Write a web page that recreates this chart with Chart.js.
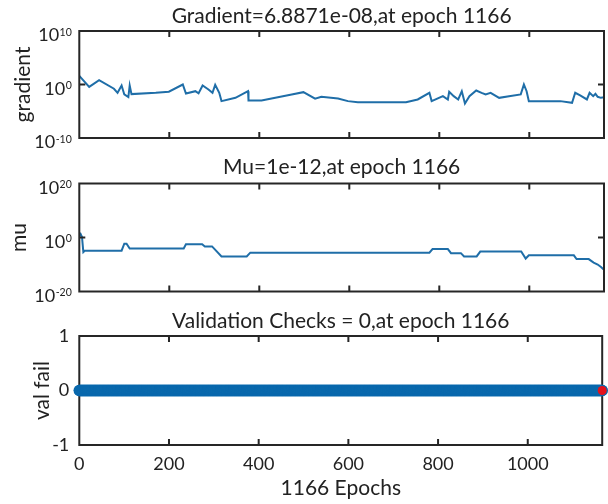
<!DOCTYPE html>
<html lang="en">

<head>
    <meta charset="UTF-8">
    <title>Training State</title>
    <script src="https://cdn.jsdelivr.net/npm/chart.js"></script>
    <style>
        body {
            margin: 0;
            background: #fff;
        }

        .panel {
            position: relative;
            width: 608px;
            height: 504px;
        }

        canvas {
            position: absolute;
            left: 0;
        }
    </style>
</head>

<body>
    <div class="panel">
        <canvas id="gradChart" width="608" height="160" style="top:0"></canvas>
        <canvas id="muChart" width="608" height="165" style="top:150px"></canvas>
        <canvas id="valChart" width="608" height="204" style="top:300px"></canvas>
    </div>

    <script>
        const lastEpoch = 1166;
        const epochTicks = [0, 200, 400, 600, 800, 1000];

        // gradient per epoch (log axis); the last entry is the final gradient at epoch 1166
        const gradEpochs = [0, 22, 44, 77, 85, 94, 100, 109, 112, 116, 170, 199, 230, 237, 258, 265, 274, 287, 296, 302,
            311, 316, 347, 375, 376, 405, 472, 498, 524, 538, 575, 597, 619, 726, 752, 778, 783, 808, 819, 822,
            832, 842, 850, 857, 867, 882, 894, 903, 914, 933, 955, 981, 988, 994, 999, 1069, 1095, 1102, 1113, 1128,
            1134, 1142, 1147, 1152, 1159, 1166, 1166];
        const gradValues = [4.0e1, 3.5e-1, 6.5, 1.6e-1, 2.8e-2, 6.6e-1, 1.4e-2, 4.5e-3, 6.6e-1, 1.6e-2,
            2.8e-2, 4.5e-2, 1.0, 2.1e-2, 5.6e-2, 2.2e-2, 6.6e-1, 1.2e-1, 2.8e-2, 8.9e-1,
            2.8e-2, 7.8e-4, 3.2e-3, 5.6e-2, 1.0e-3, 1.0e-3, 1.4e-2, 3.7e-2, 2.2e-3, 5.0e-3,
            2.5e-3, 7.8e-4, 5.0e-4, 5.0e-4, 1.6e-3, 2.8e-2, 7.8e-4, 6.6e-3, 1.6e-3, 4.3e-2,
            6.6e-3, 1.6e-3, 5.6e-2, 2.8e-4, 6.6e-3, 7.6e-2, 2.8e-2, 1.4e-2, 2.8e-2, 3.2e-3,
            6.6e-3, 1.4e-2, 1.0, 5.6e-2, 7.8e-4, 7.8e-4, 3.8e-4, 2.8e-2, 8.9e-3, 1.6e-3,
            2.8e-2, 6.6e-3, 1.8e-2, 5.0e-3, 3.2e-3, 4.0e-3, 6.8871e-8];
        const gradTicks = [1e-10, 1, 1e10];

        // mu per epoch (log axis)
        const muEpochs = [0, 3, 6, 9, 12, 94, 100, 105, 112, 232, 237, 273, 279, 295, 316, 372, 380, 778, 785, 819,
            826, 848, 855, 883, 891, 982, 992, 999, 1099, 1105, 1132, 1143, 1152, 1160, 1166];
        const muValues = [3.2, 2.0e1, 1.6, 4.0e-6, 1.3e-5, 1.3e-5, 5.0e-3, 5.0e-3, 7.9e-5, 7.9e-5,
            3.2e-3, 3.2e-3, 5.0e-4, 5.0e-4, 1.0e-7, 1.0e-7, 2.5e-6, 2.5e-6, 5.0e-5, 5.0e-5,
            1.6e-6, 1.6e-6, 1.0e-7, 1.0e-7, 6.3e-6, 6.3e-6, 1.6e-8, 2.5e-7, 2.5e-7, 1.0e-8,
            1.0e-8, 5.0e-10, 1.0e-10, 1.0e-11, 1e-12];
        const muTicks = [1e-20, 1, 1e20];

        // validation failures: zero at every epoch
        const valEpochs = Array.from({ length: lastEpoch + 1 }, (_, i) => i);
        const valFail = valEpochs.map(() => 0);
        const valTicks = [-1, 0, 1];
        const currentEpoch = [1166];
        const currentFail = [0];

        const family = 'Lato, "Open Sans", sans-serif';
        const ink = '#222222';
        const lineBlue = '#1f6ea8';
        const axisLeft = 79.3;

        function toPoints(xs, ys) {
            return xs.map((x, i) => ({ x: x, y: ys[i] }));
        }

        // box around the plot area with MATLAB-style inward ticks
        function drawFrame(chart) {
            const { ctx, chartArea: a, scales: { x, y } } = chart;
            ctx.save();
            ctx.strokeStyle = '#262626';
            ctx.lineWidth = 2;
            ctx.beginPath();
            x.ticks.forEach(t => {
                const px = x.getPixelForValue(t.value);
                if (px < a.left + 2 || px > a.right - 2) return;
                ctx.moveTo(px, a.bottom);
                ctx.lineTo(px, a.bottom - 6);
                ctx.moveTo(px, a.top);
                ctx.lineTo(px, a.top + 6);
            });
            y.ticks.forEach(t => {
                const py = y.getPixelForValue(t.value);
                if (py < a.top + 2 || py > a.bottom - 2) return;
                ctx.moveTo(a.left, py);
                ctx.lineTo(a.left + 6, py);
                ctx.moveTo(a.right, py);
                ctx.lineTo(a.right - 6, py);
            });
            ctx.stroke();
            ctx.strokeRect(a.left, a.top, a.right - a.left, a.bottom - a.top);
            ctx.restore();
        }

        // "10" with a raised exponent for the log axes
        function drawPowers(chart) {
            const { ctx, chartArea: a, scales: { y } } = chart;
            const right = a.left - 7.5;
            ctx.save();
            ctx.fillStyle = ink;
            ctx.textAlign = 'right';
            ctx.textBaseline = 'alphabetic';
            y.ticks.forEach(t => {
                const mid = y.getPixelForValue(t.value) + 3.5;
                const exp = String(Math.round(Math.log10(t.value)));
                ctx.font = '10.5px ' + family;
                const ew = ctx.measureText(exp).width;
                ctx.fillText(exp, right, mid + 1);
                ctx.font = '18px ' + family;
                ctx.fillText('10', right - ew - 0.5, mid + 6.5);
            });
            ctx.restore();
        }

        const frame = {
            id: 'frame',
            defaults: { under: false, powers: false },
            beforeDatasetsDraw(chart, args, opts) {
                if (opts.under) drawFrame(chart);
            },
            afterDatasetsDraw(chart, args, opts) {
                if (!opts.under) drawFrame(chart);
                if (opts.powers) drawPowers(chart);
            }
        };

        function epochScale(showLabels, height) {
            return {
                type: 'linear',
                min: 0,
                max: lastEpoch,
                afterBuildTicks: s => { s.ticks = epochTicks.map(v => ({ value: v })); },
                afterFit: s => { s.height = height; },
                grid: { display: false, drawTicks: false },
                border: { display: false },
                ticks: {
                    display: showLabels,
                    autoSkip: false,
                    maxRotation: 0,
                    padding: 8,
                    color: ink,
                    font: { family: family, size: 18 },
                    callback: v => String(v)
                },
                title: {
                    display: showLabels,
                    text: lastEpoch + ' Epochs',
                    color: ink,
                    font: { family: family, size: 21, lineHeight: 1.2 },
                    padding: { top: 0, bottom: 3.4 }
                }
            };
        }

        function valueScale(type, ticks, label, labelPad, showTicks) {
            return {
                type: type,
                min: ticks[0],
                max: ticks[ticks.length - 1],
                afterBuildTicks: s => { s.ticks = ticks.map(v => ({ value: v })); },
                afterFit: s => { s.width = axisLeft; },
                grid: { display: false, drawTicks: false },
                border: { display: false },
                ticks: {
                    display: showTicks,
                    padding: 10,
                    color: ink,
                    font: { family: family, size: 18 },
                    callback: v => String(v)
                },
                title: {
                    display: true,
                    text: label,
                    color: ink,
                    font: { family: family, size: 21, lineHeight: 1.2 },
                    padding: { top: labelPad, bottom: 0 }
                }
            };
        }

        function titleOptions(text, top, bottom) {
            return {
                display: true,
                text: text,
                fullSize: false,
                color: ink,
                font: { family: family, size: 21, weight: 'normal', lineHeight: 1.2 },
                padding: { top: top, bottom: bottom }
            };
        }

        const common = {
            responsive: false,
            animation: false,
            events: [],
            layout: { padding: { left: 0, right: 4, top: 0, bottom: 0 } }
        };

        new Chart(document.getElementById('gradChart'), {
            type: 'line',
            data: {
                datasets: [{
                    data: toPoints(gradEpochs, gradValues),
                    borderColor: lineBlue,
                    borderWidth: 2,
                    pointRadius: 0,
                    tension: 0
                }]
            },
            options: {
                ...common,
                scales: {
                    x: epochScale(false, 22),
                    y: valueScale('logarithmic', gradTicks, 'gradient', 10.4, false)
                },
                plugins: {
                    legend: { display: false },
                    tooltip: { enabled: false },
                    title: titleOptions('Gradient=6.8871e-08,at epoch 1166', 3.9, 1.9),
                    frame: { powers: true }
                }
            },
            plugins: [frame]
        });

        new Chart(document.getElementById('muChart'), {
            type: 'line',
            data: {
                datasets: [{
                    data: toPoints(muEpochs, muValues),
                    borderColor: lineBlue,
                    borderWidth: 2,
                    pointRadius: 0,
                    tension: 0
                }]
            },
            options: {
                ...common,
                scales: {
                    x: epochScale(false, 23.5),
                    y: valueScale('logarithmic', muTicks, 'mu', 7, false)
                },
                plugins: {
                    legend: { display: false },
                    tooltip: { enabled: false },
                    title: titleOptions('Mu=1e-12,at epoch 1166', 4.4, 3.9),
                    frame: { powers: true }
                }
            },
            plugins: [frame]
        });

        new Chart(document.getElementById('valChart'), {
            type: 'line',
            data: {
                datasets: [{
                    data: toPoints(currentEpoch, currentFail),
                    showLine: false,
                    pointRadius: 4.5,
                    pointBorderWidth: 0,
                    pointBackgroundColor: '#e3121c',
                    clip: false
                }, {
                    data: toPoints(valEpochs, valFail),
                    showLine: false,
                    pointRadius: 5.8,
                    pointBorderWidth: 0,
                    pointBackgroundColor: '#0a69ad',
                    clip: false
                }]
            },
            options: {
                ...common,
                scales: {
                    x: epochScale(true, 59),
                    y: valueScale('linear', valTicks, 'val fail', 29.4, true)
                },
                plugins: {
                    legend: { display: false },
                    tooltip: { enabled: false },
                    title: titleOptions('Validation Checks = 0,at epoch 1166', 8.4, 2.4),
                    frame: { under: true }
                }
            },
            plugins: [frame]
        });
    </script>
</body>

</html>
